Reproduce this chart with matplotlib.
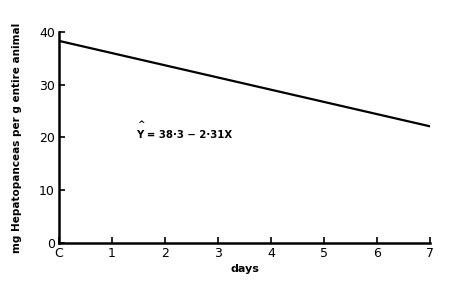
import matplotlib
matplotlib.use("Agg")
import matplotlib.pyplot as plt

# values
days = [0, 7]
hepato_mg = [38.3, 22.1]
x_ticks = [0, 1, 2, 3, 4, 5, 6, 7]
x_tick_labels = ["C", "1", "2", "3", "4", "5", "6", "7"]
y_ticks = [0, 10, 20, 30, 40]

fig = plt.figure(figsize=(4.5, 2.9), dpi=100)
ax = fig.add_axes([0.131, 0.162, 0.825, 0.728])

ax.plot(days, hepato_mg, color="black", linewidth=1.6, solid_capstyle="butt")

ax.set_xlim(0, 7)
ax.set_ylim(0, 40)
ax.spines["top"].set_visible(False)
ax.spines["right"].set_visible(False)
for s in ("left", "bottom"):
    ax.spines[s].set_linewidth(1.8)

ax.set_xticks(x_ticks)
ax.set_xticklabels(x_tick_labels)
ax.set_yticks(y_ticks)
ax.tick_params(direction="in", length=4, width=1.2, labelsize=9, pad=3)

ax.set_xlabel("days", fontsize=8, fontweight="bold", labelpad=3)
ax.set_ylabel("mg Hepatopanceas per g entire animal", fontsize=7.5,
              fontweight="bold", labelpad=12)

# regression equation with a hat over Y
ax.text(1.45, 19.9, "Y = 38·3 − 2·31X", fontsize=7.3, fontweight="bold")
ax.text(1.475, 22.0, "^", fontsize=6.5, fontweight="bold")

fig.savefig("out.png", dpi=100)
